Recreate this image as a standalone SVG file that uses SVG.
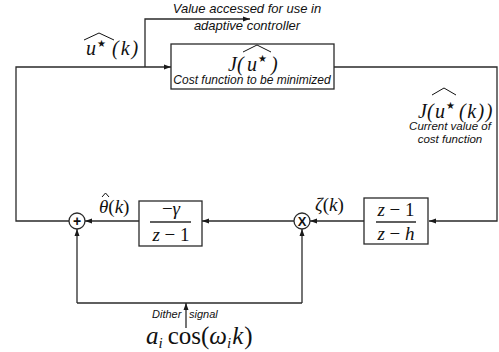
<svg xmlns="http://www.w3.org/2000/svg" width="499" height="352" viewBox="0 0 499 352">
<defs>
<marker id="ah" markerUnits="userSpaceOnUse" markerWidth="8" markerHeight="6" refX="7" refY="3" orient="auto">
<path d="M0,0.5 L7,3 L0,5.5 z" fill="#1a1a1a"/>
</marker>
<style>
.ln{fill:none;stroke:#2a2a2a;stroke-width:1.3}
.bx{fill:#fff;stroke:#2a2a2a;stroke-width:1.3}
.cap{font-family:"Liberation Sans",Arial,sans-serif;font-style:italic;fill:#111}
.m{font-family:"Liberation Serif","Times New Roman",serif;font-style:normal;fill:#111}
.mi{font-family:"Liberation Serif","Times New Roman",serif;font-style:italic;fill:#111}
.hat{fill:none;stroke:#111;stroke-width:1}
</style>
</defs>
<rect width="499" height="352" fill="#fff"/>
<g id="connectors">
<path class="ln" d="M69,221 H16 V67 H171" marker-end="url(#ah)"/>
<path class="ln" d="M145,67 V19 H250" marker-end="url(#ah)"/>
<path class="ln" d="M334,67 H497 V221 H429" marker-end="url(#ah)"/>
<path class="ln" d="M364,221 H310" marker-end="url(#ah)"/>
<path class="ln" d="M294,221 H202" marker-end="url(#ah)"/>
<path class="ln" d="M139,221 H85" marker-end="url(#ah)"/>
<path class="ln" d="M77,303 H302"/>
<path class="ln" d="M77,303 V229" marker-end="url(#ah)"/>
<path class="ln" d="M302,303 V229" marker-end="url(#ah)"/>
<path class="ln" d="M186,328 V303" marker-end="url(#ah)"/>
</g>
<g id="label-value-accessed">
<text class="cap" x="247" y="13" font-size="13" text-anchor="middle">Value accessed for use in</text>
<text class="cap" x="247" y="30" font-size="13" text-anchor="middle">adaptive controller</text>
</g>
<g id="label-u-star">
<path class="hat" d="M84,40 L99,33 L114,40"/>
<text class="mi" x="86" y="55" font-size="20">u</text>
<text class="m" x="97" y="47" font-size="10">★</text>
<text class="mi" x="112" y="55" font-size="20" letter-spacing="2">(k)</text>
</g>
<g id="cost-function">
<rect class="bx" x="171" y="44" width="163" height="45"/>
<text class="mi" x="228" y="71" font-size="20">J(</text>
<path class="hat" d="M243,52 L257,45 L271,52"/>
<text class="mi" x="247" y="71" font-size="20">u</text>
<text class="m" x="258" y="62" font-size="10">★</text>
<text class="mi" x="271" y="71" font-size="20">)</text>
<text class="cap" x="252" y="84" font-size="12" text-anchor="middle">Cost function to be minimized</text>
</g>
<g id="label-current-value">
<text class="mi" x="418" y="118" font-size="20">J(</text>
<path class="hat" d="M432,95 L444,88 L456,95"/>
<text class="mi" x="435" y="118" font-size="20">u</text>
<text class="m" x="446" y="109" font-size="10">★</text>
<text class="mi" x="459" y="118" font-size="20" letter-spacing="1.5">(k))</text>
<text class="cap" x="450" y="130" font-size="11.5" text-anchor="middle">Current value of</text>
<text class="cap" x="450" y="143" font-size="11.5" text-anchor="middle">cost function</text>
</g>
<g id="filter">
<rect class="bx" x="364" y="198" width="64" height="46"/>
<text class="mi" x="396" y="216" font-size="19" text-anchor="middle">z <tspan class="m">− 1</tspan></text>
<line class="ln" x1="376" y1="222" x2="416" y2="222"/>
<text class="mi" x="396" y="240" font-size="19" text-anchor="middle">z <tspan class="m">−</tspan> h</text>
</g>
<g id="multiplier">
<circle class="bx" cx="302" cy="221" r="8"/>
<text x="302" y="226" font-size="13" font-weight="bold" font-family="Liberation Sans, Arial, sans-serif" text-anchor="middle" fill="#111">X</text>
</g>
<g id="label-zeta">
<text class="mi" x="315" y="211" font-size="19">ζ<tspan class="m">(</tspan>k<tspan class="m">)</tspan></text>
</g>
<g id="integrator">
<rect class="bx" x="139" y="201" width="63" height="45"/>
<text class="m" x="171" y="215" font-size="19" text-anchor="middle">−<tspan class="mi">γ</tspan></text>
<line class="ln" x1="150" y1="222" x2="191" y2="222"/>
<text class="mi" x="171" y="241" font-size="19" text-anchor="middle">z <tspan class="m">− 1</tspan></text>
</g>
<g id="summer">
<circle class="bx" cx="77" cy="221" r="8"/>
<text x="77" y="226" font-size="14" font-weight="bold" font-family="Liberation Sans, Arial, sans-serif" text-anchor="middle" fill="#111">+</text>
</g>
<g id="label-theta">
<path class="hat" d="M102,197 L105.5,193 L109,197"/>
<text class="mi" x="99" y="213" font-size="19">θ<tspan class="m">(</tspan>k<tspan class="m">)</tspan></text>
</g>
<g id="dither">
<text class="cap" x="152" y="318" font-size="11">Dither</text>
<text class="cap" x="189" y="318" font-size="11">signal</text>
<text class="mi" x="146" y="344" font-size="25">a<tspan font-size="15" dy="4">i</tspan><tspan class="m" dy="-4" dx="5">cos(</tspan>ω<tspan font-size="15" dy="4">i</tspan><tspan dy="-4" dx="1">k</tspan><tspan class="m" dx="1">)</tspan></text>
</g>
</svg>
